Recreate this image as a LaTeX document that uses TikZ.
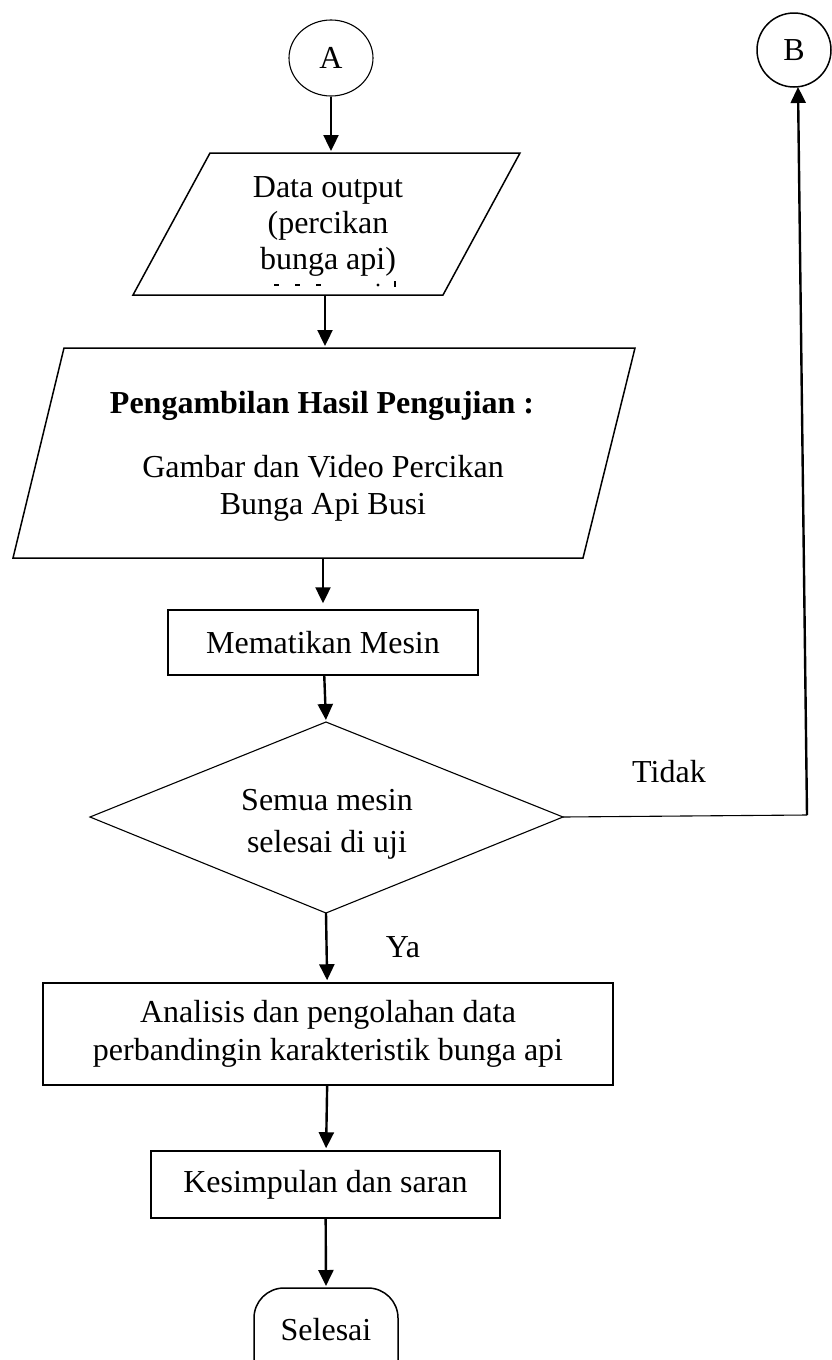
\documentclass[tikz,border=0pt]{standalone}
\usepackage{fontspec}
\setmainfont{Liberation Serif}
\usetikzlibrary{arrows.meta,shapes.geometric}
\begin{document}
\begin{tikzpicture}[x=1pt,y=-1pt,
  outline/.style={line width=1.5pt},
  thinline/.style={line width=1.1pt},
  flow/.style={line width=2.4pt,-{Triangle[length=16pt,width=15pt]},shorten >=2pt},
  box/.style={draw,line width=1.5pt,inner sep=0pt,font=\fontsize{32}{38}\selectfont},
  txt/.style={font=\fontsize{32}{38}\selectfont,inner sep=0pt,anchor=base}]
\useasboundingbox (0,0) rectangle (831,1360);
\fill[white] (0,0) rectangle (831,1360);

% connectors A and B
\node[draw,thinline,ellipse,minimum width=84,minimum height=76,inner sep=0pt,
      font=\fontsize{32}{38}\selectfont] (A) at (331,58) {A};
\node[draw,outline,circle,minimum size=74,inner sep=0pt,
      font=\fontsize{32}{38}\selectfont] (B) at (794,50) {B};

% data output (parallelogram)
\coordinate (p1tl) at (210,153);
\coordinate (p1tr) at (520,153);
\coordinate (p1br) at (443,295);
\coordinate (p1bl) at (133,295);
\coordinate (p1top) at (331,153);
\coordinate (p1bot) at (325,295);
\draw[outline] (p1tl) -- (p1tr) -- (p1br) -- (p1bl) -- cycle;
\node[txt] (d1) at (328,197) {Data output};
\node[txt] (d2) at (328,233) {(percikan};
\node[txt] (d3) at (328,269) {bunga api)};
% glyph tops of the line cut off by the lower edge
\fill (274,284) rectangle (279,286);
\fill (295,284) rectangle (300,286);
\fill (316,284) rectangle (321,286);
\fill (378,285) circle (1.6);
\fill (394,281) rectangle (396,287);

% test results (parallelogram)
\coordinate (p2tl) at (64,348);
\coordinate (p2tr) at (635,348);
\coordinate (p2br) at (583,558);
\coordinate (p2bl) at (13,558);
\coordinate (p2top) at (325,348);
\coordinate (p2bot) at (323,558);
\draw[outline] (p2tl) -- (p2tr) -- (p2br) -- (p2bl) -- cycle;
\node[txt,font=\fontsize{32}{38}\selectfont\bfseries] (h1) at (322,413) {Pengambilan Hasil Pengujian :};
\node[txt] (h2) at (323,477) {Gambar dan Video Percikan};
\node[txt] (h3) at (323,514) {Bunga Api Busi};

% switching off the engine
\node[box,minimum width=310,minimum height=65] (mesin) at (323,642.5) {Mematikan Mesin};

% decision
\coordinate (dtop) at (326,722);
\coordinate (dright) at (563,817);
\coordinate (dbot) at (326,913);
\coordinate (dleft) at (90,817);
\draw[thinline] (dtop) -- (dright) -- (dbot) -- (dleft) -- cycle;
\node[txt] (q1) at (327,810) {Semua mesin};
\node[txt] (q2) at (327,852) {selesai di uji};
\node[txt] (tidak) at (669,782) {Tidak};
\node[txt] (ya) at (403,957) {Ya};

% analysis and conclusion
\node[box,minimum width=570,minimum height=102,align=center] (anal) at (328,1034)
  {Analisis dan pengolahan data\\perbandingin karakteristik bunga api};
\node[box,minimum width=349,minimum height=67] (kes) at (325.5,1184.5) {Kesimpulan dan saran};

% terminator
\coordinate (seltop) at (326,1288);
\begin{scope}
  \clip (0,0) rectangle (831,1360);
  \draw[outline,rounded corners=30] (254,1288) rectangle (398,1440);
\end{scope}
\node[txt] (sel) at (326,1340) {Selesai};

% flow lines
\draw[flow] (A) -- (p1top);
\draw[flow] (p1bot) -- (p2top);
\draw[flow,shorten >=6pt] (p2bot) -- (p2bot |- mesin.north);
\draw[flow] (mesin) -- (dtop);
\draw[flow] (dbot) -- (anal);
\draw[flow] (anal) -- (kes);
\draw[flow] (kes) -- (seltop);

% "Tidak" branch back to B
\coordinate (corner) at (807,815);
\coordinate (Bfoot) at (798,87);
\draw[thinline] (dright) -- (corner);
\draw[flow,shorten >=0pt] (corner) -- (Bfoot);
\end{tikzpicture}
\end{document}
